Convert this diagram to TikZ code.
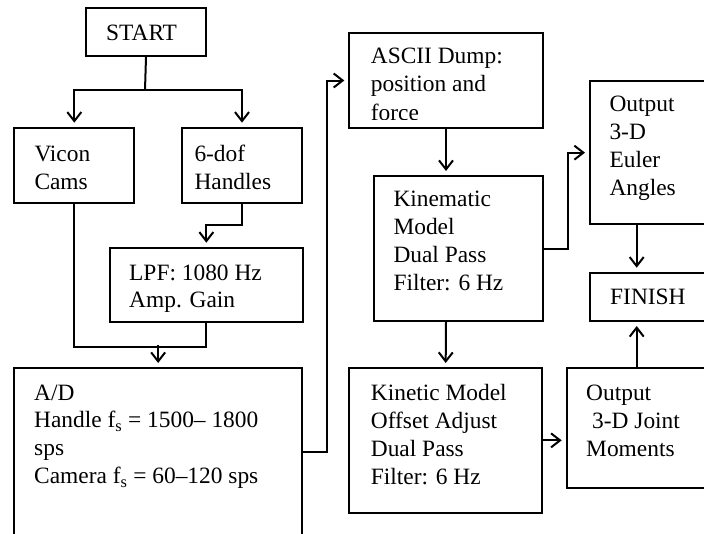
\documentclass[tikz,border=0pt]{standalone}
\usepackage{fontspec}
\setmainfont{Liberation Serif}
\usetikzlibrary{arrows.meta,calc}
\newcommand\mylines[1]{\begin{tabular}[t]{@{}l@{}}#1\end{tabular}}
\begin{document}
\begin{tikzpicture}[x=1pt,y=-1pt,
  box/.style={draw, line width=2pt, rectangle, anchor=north west, inner sep=0pt},
  txt/.style={anchor=base west, inner sep=0pt, font=\fontsize{23.4}{27.8}\selectfont},
  conn/.style={line width=2pt},
  arr/.style={conn, -{Straight Barb[length=9pt,width=14pt]}, shorten >=4pt}]
\useasboundingbox (0,0) rectangle (704,533);
\clip (0,0) rectangle (704,533);
% boxes
\node[box, minimum width=120pt, minimum height=48.3pt] (start) at (85,6.7) {};
\node[box, minimum width=120pt, minimum height=75pt] (vicon) at (13.3,126.7) {};
\node[box, minimum width=120pt, minimum height=75pt] (handles) at (181,126.7) {};
\node[box, minimum width=192.7pt, minimum height=74.3pt] (lpf) at (109,246.7) {};
\node[box, minimum width=287.7pt, minimum height=190pt] (ad) at (13.3,367) {};
\node[box, minimum width=193.4pt, minimum height=95.6pt] (ascii) at (348.3,31.7) {};
\node[box, minimum width=169pt, minimum height=145pt] (kinematic) at (372.7,175) {};
\node[box, minimum width=140pt, minimum height=143.3pt] (euler) at (589,80) {};
\node[box, minimum width=140pt, minimum height=48.3pt] (finish) at (589,271.7) {};
\node[box, minimum width=192.7pt, minimum height=144.7pt] (kinetic) at (348.3,367) {};
\node[box, minimum width=160pt, minimum height=119.7pt] (joint) at (565.7,367) {};
% texts
\node[txt] (start-t) at (106,40) {START};
\node[txt] (vicon-t) at (34.3,161.7) {\mylines{Vicon\\Cams}};
\node[txt] (handles-t) at (194.3,161.7) {\mylines{6-dof\\Handles}};
\node[txt] (lpf-t) at (129,280) {\mylines{LPF: 1080 Hz\\Amp. Gain}};
\node[txt] (ad-t) at (34,400) {\mylines{A/D\\Handle f\textsubscript{s} = 1500– 1800\\sps\\Camera f\textsubscript{s} = 60–120 sps}};
\begin{scope}
\clip (340,20) rectangle (560,119);
\node[txt, font=\fontsize{23.4}{28.4}\selectfont] (ascii-t) at (370.7,63.5) {\mylines{ASCII Dump:\\position and\\force}};
\end{scope}
\node[txt] (kinematic-t) at (393.3,206.7) {\mylines{Kinematic\\Model\\Dual Pass\\Filter: 6 Hz}};
\node[txt] (euler-t) at (609.3,111.7) {\mylines{Output\\3-D\\Euler\\Angles}};
\node[txt] (finish-t) at (610,304.3) {FINISH};
\node[txt] (kinetic-t) at (370.7,400.7) {\mylines{Kinetic Model\\Offset Adjust\\Dual Pass\\Filter: 6 Hz}};
\node[txt] (joint-t) at (586,400.7) {\mylines{Output\\\hspace*{6pt}3-D Joint\\Moments}};
% connectors
\coordinate (j1) at (145,90);
\draw[conn] (start.south) -- (j1);
\draw[arr] (j1) -| (vicon.north);
\draw[arr] (j1) -| (handles.north);
\draw[arr] (handles.south) -- ++(0,21) -| (lpf.north);
\coordinate (j2) at (ad.north |- 0,345);
\draw[conn] (vicon.south) |- ($(lpf.south)+(0,24)$) -- (lpf.south);
\draw[arr] (j2) -- (ad.north);
\coordinate (adout) at ($(ad.north east)+(0,84.7)$);
\draw[arr] (adout) -- ++(24,0) |- (ascii.west);
\draw[arr] (ascii.south) -- (ascii.south |- kinematic.north);
\draw[arr] (kinematic.east) -- ++(24,0) |- (euler.west);
\coordinate (cx) at (636.7,0);
\draw[arr] (euler.south -| cx) -- (finish.north -| cx);
\draw[arr] (joint.north -| cx) -- (finish.south -| cx);
\draw[arr] (kinematic.south -| ascii.south) -- (kinetic.north);
\draw[arr] (kinetic.east) -- (kinetic.east -| joint.west);
\end{tikzpicture}
\end{document}
